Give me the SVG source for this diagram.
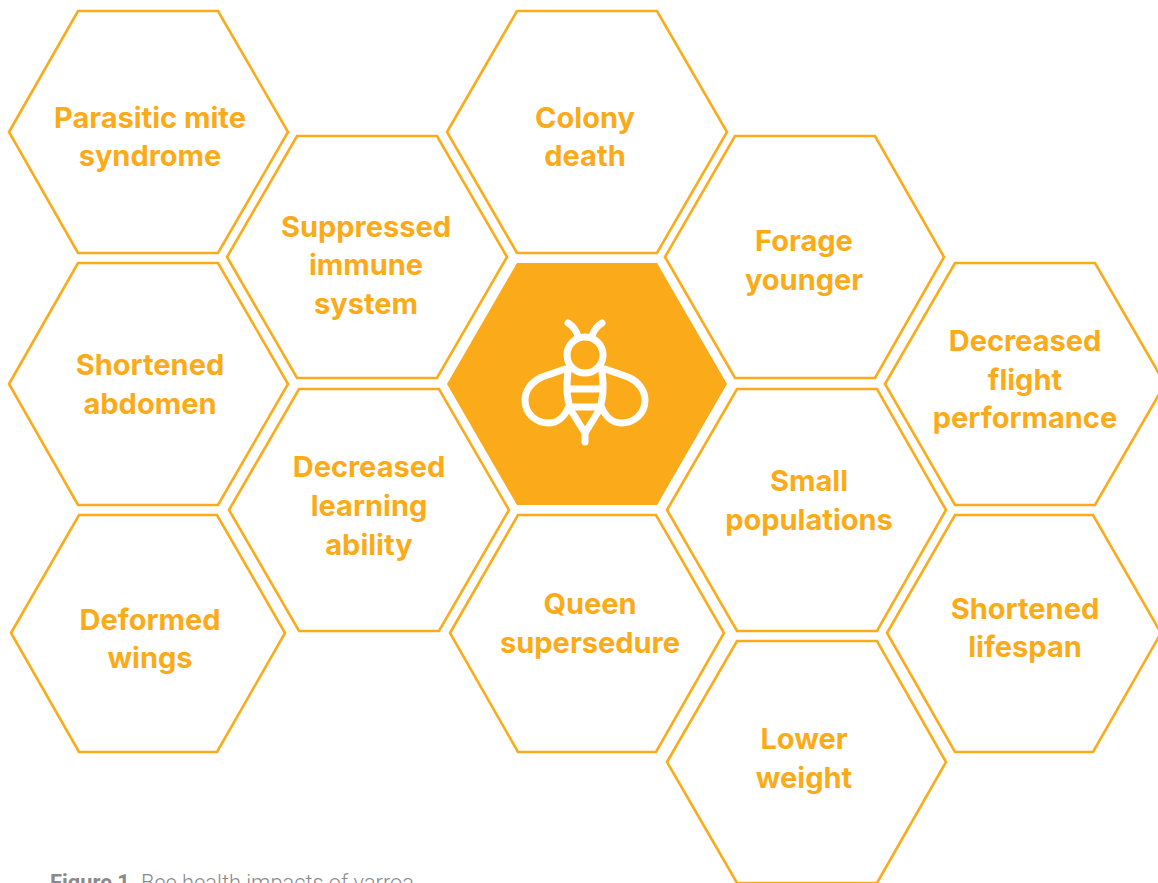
<svg xmlns="http://www.w3.org/2000/svg" width="1158" height="883" viewBox="0 0 1158 883">
<style>
.h{fill:#fff;stroke:#fbab1a;stroke-width:2.6;stroke-linejoin:miter}
.t{font-family:"Inter","Lato","Liberation Sans",sans-serif;font-weight:650;font-size:29px;fill:#fbab1a;text-anchor:middle}
.b{fill:none;stroke:#fff;stroke-width:7;stroke-linecap:round;stroke-linejoin:round}
.c{font-family:"Roboto","Liberation Sans",sans-serif;font-size:21.8px;fill:#8a8a8c}
</style>
<rect width="1158" height="883" fill="#fff"/>
<g id="n-parasitic"><polygon class="h" points="9,132 78,11 218,11 288,132 218,253 78,253"/><text class="t"><tspan x="150" y="128">Parasitic mite</tspan><tspan x="150" y="166">syndrome</tspan></text></g>
<g id="n-suppressed"><polygon class="h" points="227,257 297,136 437,136 507,257 437,378 297,378"/><text class="t"><tspan x="366" y="237">Suppressed</tspan><tspan x="366" y="275">immune</tspan><tspan x="366" y="314">system</tspan></text></g>
<g id="n-abdomen"><polygon class="h" points="9,384 78,263 218,263 288,384 218,505 78,505"/><text class="t"><tspan x="150" y="375">Shortened</tspan><tspan x="150" y="414">abdomen</tspan></text></g>
<g id="n-learning"><polygon class="h" points="229,510 299,389 439,389 509,510 439,631 299,631"/><text class="t"><tspan x="369" y="477">Decreased</tspan><tspan x="369" y="516">learning</tspan><tspan x="369" y="555">ability</tspan></text></g>
<g id="n-wings"><polygon class="h" points="11,633 79,515 217,515 285,633 217,752 79,752"/><text class="t"><tspan x="150" y="630">Deformed</tspan><tspan x="150" y="668">wings</tspan></text></g>
<g id="n-colony"><polygon class="h" points="447,132 517,11 657,11 727,132 657,253 517,253"/><text class="t"><tspan x="585" y="128">Colony</tspan><tspan x="585" y="166">death</tspan></text></g>
<g id="n-bee">
<polygon points="447,384 517,263 657,263 727,384 657,505 517,505" fill="#fbab1a"/>
<circle class="b" cx="585" cy="355" r="18"/>
<path class="b" d="M578,336C576,330 573,326 568,323M592,336C594,330 597,326 602,323"/>
<path class="b" d="M568,372C566,387 567,402 572,412L585,433L598,412C603,402 604,387 602,372"/>
<path class="b" d="M568,389H602M571,407H599"/>
<path class="b" d="M585,433V442"/>
<path class="b" d="M565,369L542,377C531,382 525,391 525,400C525,414 536,423 549,423C558,423 565,416 569,406"/>
<path class="b" d="M605,369L628,377C639,382 645,391 645,400C645,414 634,423 621,423C612,423 605,416 601,406"/>
</g>
<g id="n-queen"><polygon class="h" points="450,633 518,515 656,515 724,633 656,752 518,752"/><text class="t"><tspan x="590" y="614">Queen</tspan><tspan x="590" y="653">supersedure</tspan></text></g>
<g id="n-forage"><polygon class="h" points="665,257 735,136 875,136 944,257 875,378 735,378"/><text class="t"><tspan x="804" y="251">Forage</tspan><tspan x="804" y="290">younger</tspan></text></g>
<g id="n-small"><polygon class="h" points="667,510 737,389 877,389 946,510 877,631 737,631"/><text class="t"><tspan x="809" y="491">Small</tspan><tspan x="809" y="530">populations</tspan></text></g>
<g id="n-lower"><polygon class="h" points="667,762 737,641 877,641 946,762 877,883 737,883"/><text class="t"><tspan x="804" y="749">Lower</tspan><tspan x="804" y="788">weight</tspan></text></g>
<g id="n-flight"><polygon class="h" points="885,384 955,263 1095,263 1165,384 1095,505 955,505"/><text class="t"><tspan x="1025" y="351">Decreased</tspan><tspan x="1025" y="390">flight</tspan><tspan x="1025" y="428">performance</tspan></text></g>
<g id="n-lifespan"><polygon class="h" points="887,633 955,515 1093,515 1161,633 1093,752 955,752"/><text class="t"><tspan x="1025" y="619">Shortened</tspan><tspan x="1025" y="657">lifespan</tspan></text></g>
<g id="connectors"></g>
<text class="c" x="50" y="890"><tspan font-weight="700">Figure 1</tspan><tspan dx="11" font-weight="300">Bee health impacts of varroa</tspan></text>
</svg>
